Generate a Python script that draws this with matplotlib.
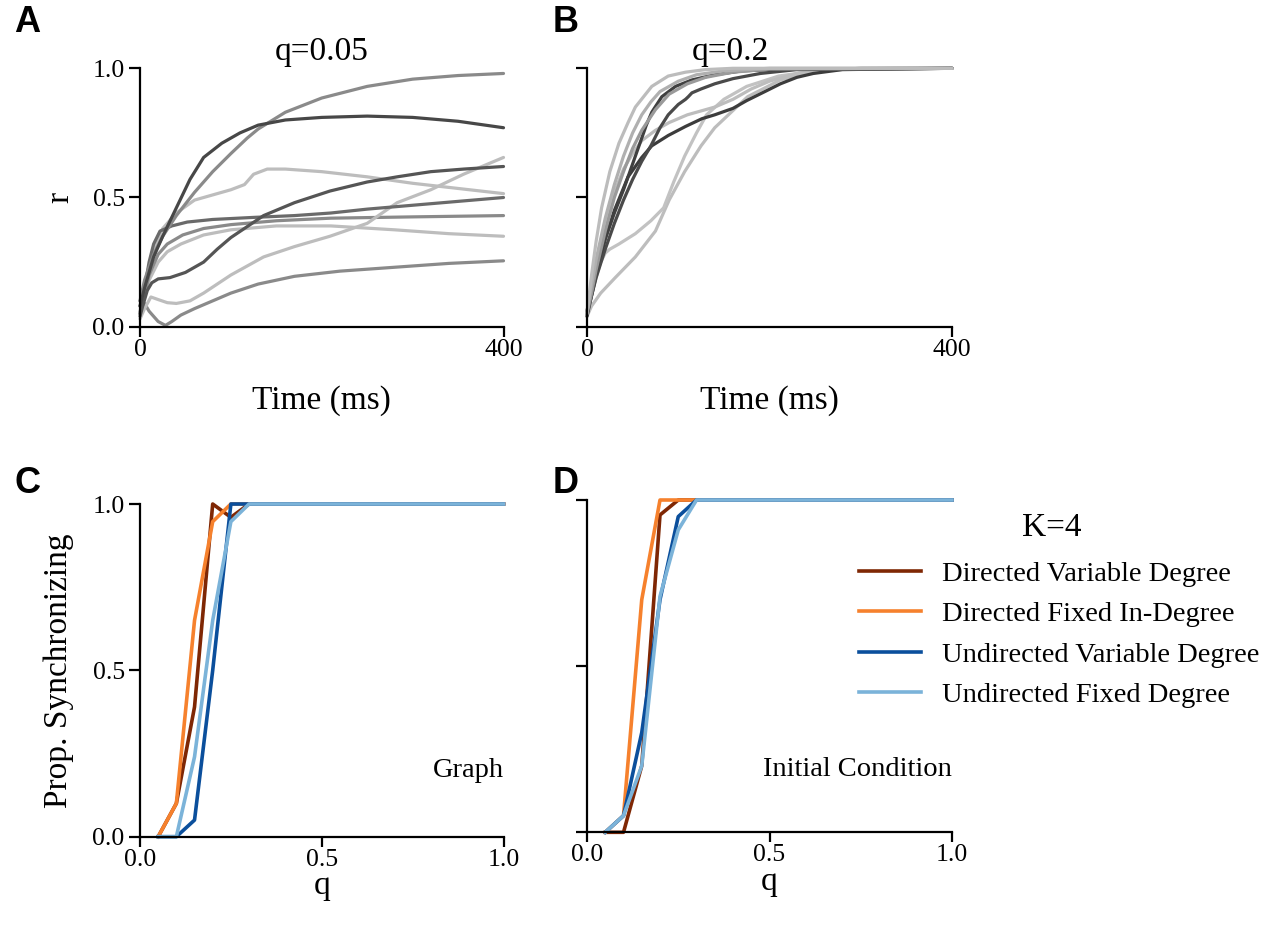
import matplotlib
matplotlib.use("Agg")
import matplotlib.pyplot as plt
from matplotlib.lines import Line2D

# ---------------- data ----------------
# Panel A (q=0.05): time (ms) and order parameter r for each trial
a1_t = [0, 5, 15, 25, 40, 60, 80, 100, 118, 130, 160, 200, 250, 300, 350, 400]
a1_r = [0.10, 0.18, 0.28, 0.35, 0.43, 0.52, 0.60, 0.67, 0.73, 0.765, 0.83, 0.885, 0.93, 0.958, 0.972, 0.98]
a2_t = [0, 5, 15, 25, 40, 55, 70, 90, 110, 130, 160, 200, 250, 300, 350, 400]
a2_r = [0.08, 0.15, 0.27, 0.35, 0.46, 0.57, 0.655, 0.71, 0.75, 0.78, 0.80, 0.81, 0.815, 0.81, 0.795, 0.77]
a3_t = [0, 5, 15, 25, 40, 60, 80, 100, 115, 125, 140, 160, 200, 250, 300, 350, 400]
a3_r = [0.05, 0.15, 0.30, 0.38, 0.44, 0.49, 0.51, 0.53, 0.55, 0.59, 0.61, 0.61, 0.60, 0.58, 0.555, 0.535, 0.515]
a4_t = [0, 5, 12, 20, 30, 40, 55, 70, 85, 100, 136, 170, 209, 250, 283, 320, 356, 400]
a4_r = [0.03, 0.07, 0.115, 0.105, 0.093, 0.09, 0.10, 0.13, 0.165, 0.20, 0.27, 0.31, 0.35, 0.40, 0.48, 0.53, 0.59, 0.655]
a5_t = [0, 3, 8, 13, 20, 33, 50, 70, 85, 100, 136, 170, 209, 250, 283, 320, 356, 400]
a5_r = [0.04, 0.08, 0.14, 0.17, 0.185, 0.19, 0.21, 0.25, 0.30, 0.345, 0.43, 0.48, 0.525, 0.56, 0.58, 0.60, 0.61, 0.62]
a6_t = [0, 5, 10, 15, 22, 35, 52, 80, 125, 170, 210, 250, 300, 350, 400]
a6_r = [0.05, 0.15, 0.25, 0.32, 0.37, 0.39, 0.405, 0.415, 0.423, 0.43, 0.44, 0.455, 0.47, 0.485, 0.50]
a7_t = [0, 5, 10, 20, 30, 47, 70, 100, 150, 210, 300, 400]
a7_r = [0.08, 0.12, 0.20, 0.28, 0.32, 0.355, 0.38, 0.395, 0.41, 0.42, 0.425, 0.43]
a8_t = [0, 5, 10, 20, 30, 45, 70, 100, 150, 210, 280, 340, 400]
a8_r = [0.06, 0.12, 0.18, 0.25, 0.29, 0.32, 0.355, 0.375, 0.39, 0.39, 0.375, 0.36, 0.35]
a9_t = [0, 5, 10, 20, 28, 35, 45, 60, 80, 100, 130, 170, 220, 280, 340, 400]
a9_r = [0.10, 0.09, 0.06, 0.02, 0.005, 0.02, 0.045, 0.07, 0.10, 0.13, 0.165, 0.195, 0.215, 0.23, 0.245, 0.255]

# Panel B (q=0.2)
b1_t = [0, 5, 10, 16, 25, 35, 45, 53, 62, 71, 89, 108, 130, 160, 400]
b1_r = [0.05, 0.20, 0.33, 0.46, 0.60, 0.71, 0.79, 0.85, 0.89, 0.93, 0.97, 0.985, 0.995, 1.0, 1.0]
b2_t = [0, 5, 10, 20, 30, 40, 50, 60, 70, 80, 100, 120, 150, 200, 400]
b2_r = [0.06, 0.16, 0.26, 0.42, 0.55, 0.66, 0.75, 0.82, 0.87, 0.91, 0.95, 0.975, 0.99, 1.0, 1.0]
b3_t = [0, 5, 10, 20, 30, 40, 50, 60, 75, 90, 110, 130, 160, 200, 400]
b3_r = [0.05, 0.13, 0.22, 0.37, 0.50, 0.60, 0.69, 0.76, 0.84, 0.90, 0.94, 0.965, 0.985, 0.997, 1.0]
b4_t = [0, 5, 10, 20, 30, 40, 50, 60, 75, 90, 110, 140, 160, 180, 200, 230, 270, 400]
b4_r = [0.06, 0.16, 0.25, 0.40, 0.52, 0.61, 0.67, 0.72, 0.76, 0.79, 0.82, 0.85, 0.88, 0.92, 0.95, 0.98, 0.995, 1.0]
b5_t = [0, 5, 15, 31, 53, 75, 90, 107, 125, 140, 176, 212, 250, 300, 400]
b5_r = [0.04, 0.08, 0.13, 0.19, 0.27, 0.37, 0.49, 0.60, 0.70, 0.77, 0.89, 0.955, 0.99, 1.0, 1.0]
b6_t = [0, 5, 10, 15, 20, 25, 35, 53, 70, 84, 95, 107, 120, 131, 150, 175, 210, 250, 300, 400]
b6_r = [0.05, 0.12, 0.19, 0.25, 0.285, 0.30, 0.32, 0.36, 0.41, 0.46, 0.56, 0.66, 0.75, 0.82, 0.88, 0.93, 0.97, 0.99, 1.0, 1.0]
b7_t = [0, 5, 10, 20, 30, 40, 50, 57, 65, 71, 82, 97, 115, 140, 170, 220, 400]
b7_r = [0.06, 0.14, 0.22, 0.34, 0.44, 0.53, 0.63, 0.70, 0.78, 0.83, 0.89, 0.93, 0.955, 0.975, 0.99, 0.998, 1.0]
b8_t = [0, 5, 10, 20, 30, 40, 50, 60, 70, 80, 89, 100, 108, 111, 115, 125, 140, 160, 190, 230, 400]
b8_r = [0.05, 0.12, 0.19, 0.30, 0.40, 0.49, 0.57, 0.64, 0.70, 0.77, 0.82, 0.86, 0.88, 0.89, 0.905, 0.92, 0.94, 0.96, 0.98, 0.995, 1.0]
b9_t = [0, 5, 10, 20, 30, 45, 60, 71, 89, 108, 126, 140, 160, 175, 195, 212, 230, 248, 280, 400]
b9_r = [0.04, 0.12, 0.20, 0.34, 0.45, 0.58, 0.655, 0.70, 0.74, 0.775, 0.805, 0.82, 0.845, 0.875, 0.91, 0.94, 0.965, 0.98, 0.995, 1.0]

# Panels C and D: proportion synchronizing vs q
q_vals = [0.05, 0.10, 0.15, 0.20, 0.25, 0.30, 0.35, 0.40, 0.45, 0.50, 0.55, 0.60,
          0.65, 0.70, 0.75, 0.80, 0.85, 0.90, 0.95, 1.00]
series_names = ["Directed Variable Degree", "Directed Fixed In-Degree",
                "Undirected Variable Degree", "Undirected Fixed Degree"]
legend_title = "K=4"
graph_dir_var = [0, 0.10, 0.39, 1.0, 0.96, 1.0] + [1.0] * 14
graph_dir_fix = [0, 0.10, 0.65, 0.947, 1.0, 1.0] + [1.0] * 14
graph_und_var = [0, 0, 0.05, 0.50, 1.0, 1.0] + [1.0] * 14
graph_und_fix = [0, 0, 0.24, 0.65, 0.947, 1.0] + [1.0] * 14
init_dir_var = [0, 0, 0.20, 0.955, 1.0, 1.0] + [1.0] * 14
init_dir_fix = [0, 0.05, 0.70, 1.0, 1.0, 1.0] + [1.0] * 14
init_und_var = [0, 0.05, 0.30, 0.70, 0.95, 1.0] + [1.0] * 14
init_und_fix = [0, 0.05, 0.20, 0.71, 0.91, 1.0] + [1.0] * 14

# ---------------- style ----------------
plt.rcParams['font.family'] = ['Liberation Serif', 'DejaVu Serif']

W, H = 1274, 930
fig = plt.figure(figsize=(W / 100, H / 100), dpi=100)

def fpos(l, r, t, b):
    return [l / W, 1 - b / H, (r - l) / W, (b - t) / H]

axA = fig.add_axes(fpos(140, 503.5, 68.3, 326.7))
axB = fig.add_axes(fpos(587, 952, 68.3, 326.7))
axC = fig.add_axes(fpos(140, 503.5, 504, 836.7))
axD = fig.add_axes(fpos(587, 952, 500, 832.3))

DARK = '#474747'
MID = '#8a8a8a'
MID2 = '#6a6a6a'
LIGHT = '#bdbdbd'
LW = 2.3
TICK_FS = 18.5
LABEL_FS = 24

for ax in (axA, axB, axC, axD):
    for s in ('top', 'right'):
        ax.spines[s].set_visible(False)
    for s in ('left', 'bottom'):
        ax.spines[s].set_linewidth(1.6)
    ax.tick_params(width=1.6, length=8, labelsize=TICK_FS, direction='out')
    ax.tick_params(axis='x', length=7, pad=1.5)
    ax.tick_params(axis='y', pad=3)

# Panel A
a_curves = [(a9_t, a9_r, MID), (a8_t, a8_r, LIGHT), (a7_t, a7_r, MID),
            (a4_t, a4_r, LIGHT), (a3_t, a3_r, LIGHT), (a6_t, a6_r, MID2),
            (a5_t, a5_r, '#555555'), (a1_t, a1_r, MID), (a2_t, a2_r, DARK)]
for t, r, c in a_curves:
    axA.plot(t, r, color=c, lw=LW, solid_capstyle='round', clip_on=False)

# Panel B
b_curves = [(b5_t, b5_r, LIGHT), (b6_t, b6_r, '#c2c2c2'), (b4_t, b4_r, LIGHT),
            (b9_t, b9_r, '#3c3c3c'), (b8_t, b8_r, '#4a4a4a'), (b7_t, b7_r, '#404040'),
            (b3_t, b3_r, '#9a9a9a'), (b2_t, b2_r, '#b0b0b0'), (b1_t, b1_r, '#bcbcbc')]
for t, r, c in b_curves:
    axB.plot(t, r, color=c, lw=LW, solid_capstyle='round', clip_on=False)

for ax in (axA, axB):
    ax.set_xlim(0, 400)
    ax.set_ylim(0, 1)
    ax.set_xticks([0, 400])
    ax.set_yticks([0, 0.5, 1.0])
    ax.set_xlabel('Time (ms)', fontsize=LABEL_FS, labelpad=18)
axA.set_yticklabels(['0.0', '0.5', '1.0'])
axB.set_yticklabels([])
axA.set_ylabel('r', fontsize=LABEL_FS, labelpad=12)
axA.text(0.5, 1.032, 'q=0.05', transform=axA.transAxes, ha='center', va='baseline', fontsize=LABEL_FS)
axB.text(0.392, 1.032, 'q=0.2', transform=axB.transAxes, ha='center', va='baseline', fontsize=LABEL_FS)

# Panels C, D
colors = ['#7f2704', '#f6812d', '#0b4f9c', '#7bb3d9']
c_series = [graph_dir_var, graph_dir_fix, graph_und_var, graph_und_fix]
d_series = [init_dir_var, init_dir_fix, init_und_var, init_und_fix]
for ys, c, name in zip(c_series, colors, series_names):
    axC.plot(q_vals, ys, color=c, lw=2.6, clip_on=False, label=name)
for ys, c, name in zip(d_series, colors, series_names):
    axD.plot(q_vals, ys, color=c, lw=2.6, clip_on=False, label=name)

for ax in (axC, axD):
    ax.set_xlim(0, 1)
    ax.set_ylim(0, 1)
    ax.set_xticks([0, 0.5, 1.0])
    ax.set_xticklabels(['0.0', '0.5', '1.0'])
    ax.set_yticks([0, 0.5, 1.0])
    ax.set_xlabel('q', fontsize=LABEL_FS, labelpad=0)
axC.set_yticklabels(['0.0', '0.5', '1.0'])
axD.set_yticklabels([])
axC.set_ylabel('Prop. Synchronizing', fontsize=LABEL_FS, labelpad=13)
axC.text(1.0, 0.2, 'Graph', transform=axC.transAxes, ha='right', va='center', fontsize=20.5)
axD.text(1.0, 0.19, 'Initial Condition', transform=axD.transAxes, ha='right', va='center', fontsize=20.5)

handles = [Line2D([], [], color=c, lw=2.6) for c in colors]
leg = fig.legend(handles, series_names, loc='upper left',
                 bbox_to_anchor=(845 / W, 1 - 547 / H), frameon=False,
                 fontsize=20.5, handlelength=2.18, handletextpad=0.74,
                 labelspacing=0.5, borderpad=0)
fig.text(1052 / W, 1 - 528 / H, legend_title, fontsize=LABEL_FS, ha='center', va='center')

# Panel letters
for lab, x, y in (('A', 27, 22), ('B', 566, 22), ('C', 27, 483), ('D', 566, 483)):
    fig.text(x / W, 1 - y / H, lab, fontsize=26, fontweight='bold',
             family=['Liberation Sans', 'DejaVu Sans'], ha='center', va='center')

fig.savefig('out.png', dpi=100)
